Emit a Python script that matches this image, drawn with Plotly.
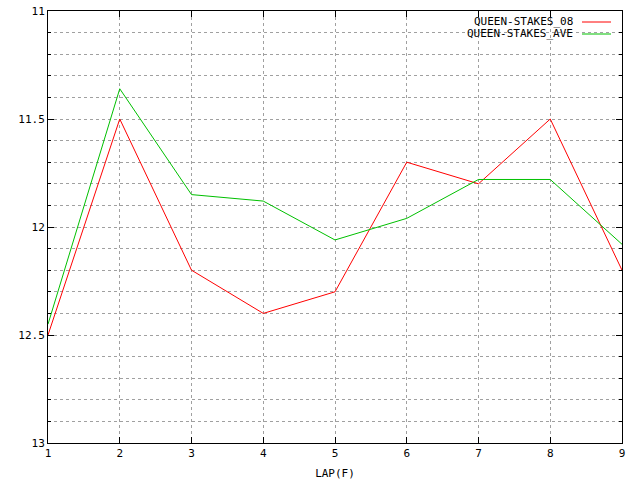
import plotly.graph_objects as go

laps = [1, 2, 3, 4, 5, 6, 7, 8, 9]
stakes_08 = [12.5, 11.5, 12.2, 12.4, 12.3, 11.7, 11.8, 11.5, 12.2]
stakes_ave = [12.45, 11.36, 11.85, 11.88, 12.06, 11.96, 11.78, 11.78, 12.08]
names = ["QUEEN-STAKES_08", "QUEEN-STAKES_AVE"]
colors = ["#ff0000", "#00c000"]
y_ticks = [11, 11.5, 12, 12.5, 13]

FONT = "DejaVu Sans Mono"

fig = go.Figure()
for name, vals, col in zip(names, [stakes_08, stakes_ave], colors):
    fig.add_trace(go.Scatter(x=laps, y=vals, mode="lines", name=name,
                             line=dict(color=col, width=1), showlegend=False))

# gnuplot-style legend: text then line sample
for i, (name, col) in enumerate(zip(names, colors)):
    ypos = 1 - (11 + 12 * i) / 432
    fig.add_annotation(xref="paper", yref="paper", x=(575 - 48) / 574, y=ypos,
                       text=name, showarrow=False, xanchor="right", yanchor="middle",
                       font=dict(family=FONT, size=11, color="black"))
    fig.add_shape(type="line", xref="paper", yref="paper",
                  x0=(582 - 48) / 574, x1=(611 - 48) / 574, y0=ypos, y1=ypos,
                  line=dict(color=col, width=1))

fig.update_layout(
    width=640, height=480,
    margin=dict(l=48, r=18, t=11, b=37, autoexpand=False),
    paper_bgcolor="white", plot_bgcolor="white",
    font=dict(family=FONT, size=11, color="black"),
)
fig.update_xaxes(
    range=[1, 9], tickvals=laps, ticktext=[str(v) for v in laps],
    showgrid=True, gridcolor="#a0a0a0", griddash="dot", gridwidth=1,
    showline=True, linecolor="black", linewidth=1, mirror="ticks",
    ticks="inside", ticklen=6, tickcolor="black", zeroline=False,
    automargin=False, ticklabeloverflow="allow",
    title=dict(text="LAP(F)", font=dict(family=FONT, size=11), standoff=11),
)
fig.update_yaxes(
    range=[13, 11], tickvals=y_ticks, ticktext=[f"{v:g}" for v in y_ticks],
    showgrid=True, gridcolor="#a0a0a0", griddash="dot", gridwidth=1,
    showline=True, linecolor="black", linewidth=1, mirror="ticks",
    ticks="inside", ticklen=6, tickcolor="black", zeroline=False,
    automargin=False, ticklabeloverflow="allow",
    minor=dict(dtick=0.1, tick0=11, showgrid=True, gridcolor="#a0a0a0",
               griddash="dot", ticks="inside", ticklen=3, tickcolor="black"),
)

fig.write_html("out.html", config={"displayModeBar": False},
               post_script="document.body.style.margin='0';")
